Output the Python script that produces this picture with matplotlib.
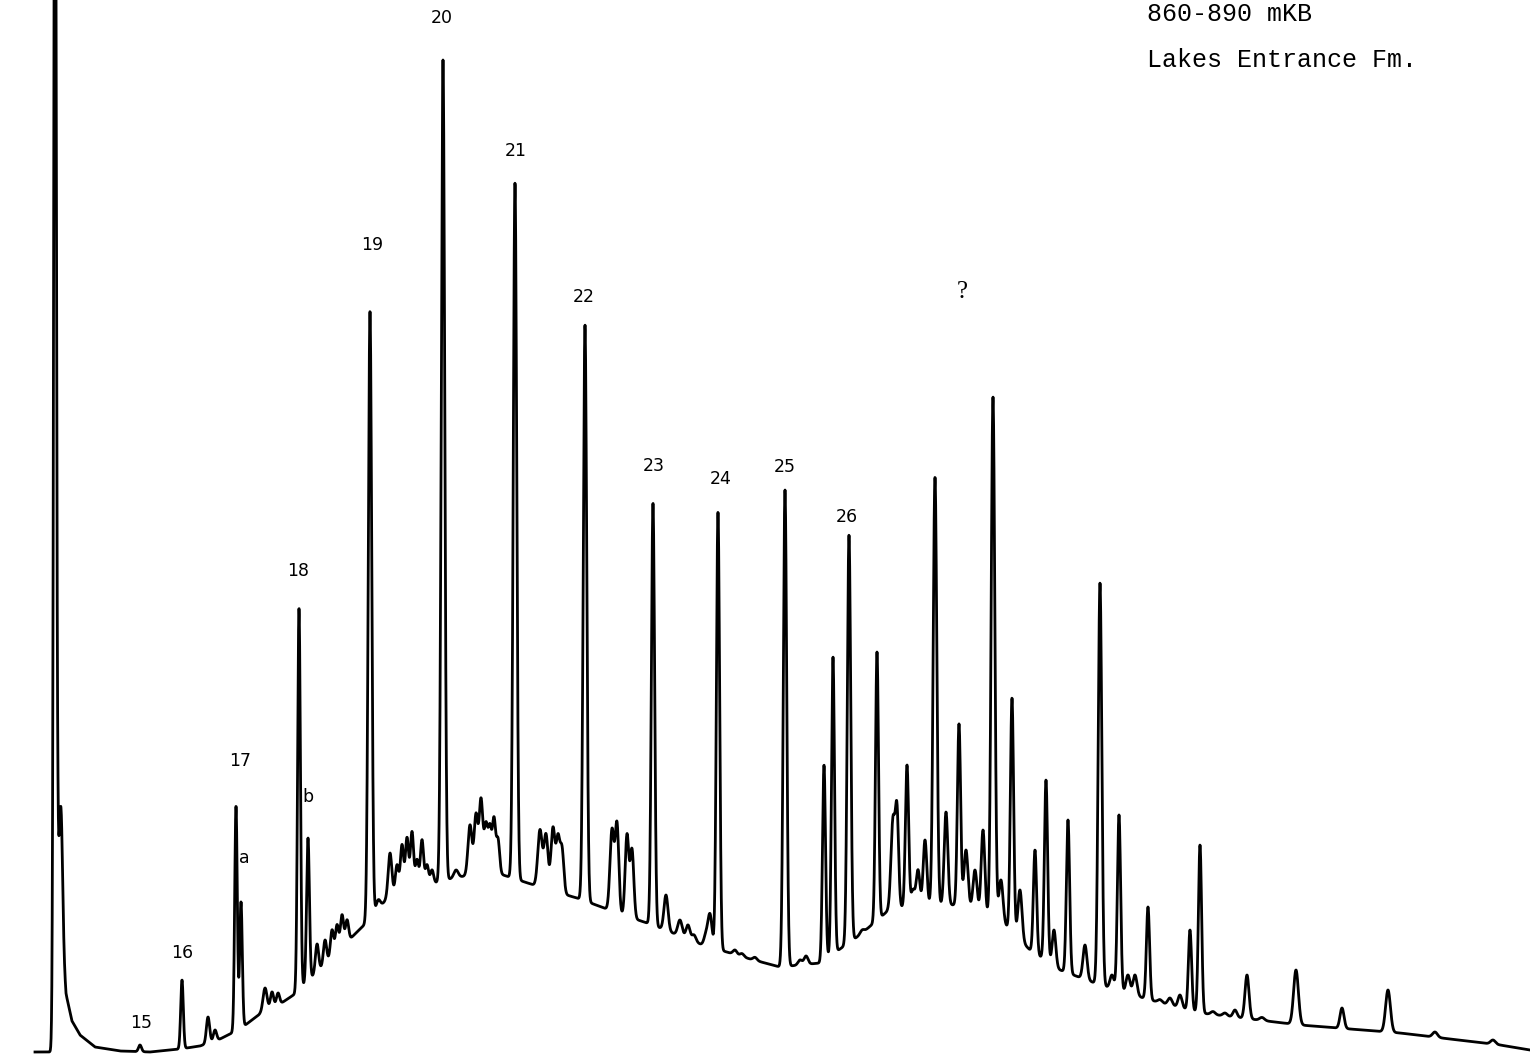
# Gas chromatogram, Lakes Entrance Fm.

import numpy as np
from matplotlib import pyplot as plt

# retention axis: 0-1530, response axis: 0-1059 (chart units)
base_x = [35, 52, 58, 62, 66, 72, 80, 95, 120, 150, 180, 200, 220, 240, 260,
          280, 295, 320, 340, 360, 375, 390, 420, 450, 480, 500, 540, 580,
          620, 650, 700, 750, 780, 820, 860, 890, 920, 960, 1000, 1030, 1060,
          1100, 1150, 1200, 1250, 1300, 1350, 1400, 1450, 1500, 1530]
base_y = [7, 7, 170, 120, 65, 38, 24, 12, 8, 7, 10, 13, 20, 30, 45,
          55, 65, 90, 110, 130, 144, 165, 172, 180, 186, 185, 172, 160,
          145, 135, 115, 100, 92, 96, 124, 150, 154, 154, 139, 109, 89,
          74, 59, 46, 40, 34, 30, 26, 20, 14, 9]

peak_x = [55, 61, 140, 182, 208, 215, 236, 241, 265, 272, 278, 299, 308,
          317, 325, 332, 337, 342, 347, 370, 378, 390, 397, 402, 407, 412,
          417, 422, 427, 432, 443, 456, 470, 476, 481, 486, 490, 494, 498,
          515, 540, 546, 553, 558, 562, 585, 612, 617, 627, 632, 653, 666,
          680, 688, 694, 706, 710, 718, 735, 742, 755, 785, 800, 806, 824,
          833, 849, 862, 877, 893, 897, 907, 913, 918, 925, 935, 946, 959,
          966, 975, 983, 993, 1001, 1012, 1020, 1035, 1046, 1054, 1068, 1085,
          1100, 1112, 1119, 1128, 1135, 1148, 1160, 1170, 1180, 1190, 1200,
          1213, 1225, 1235, 1247, 1262, 1296, 1342, 1388, 1435, 1493]
peak_top = [1400, 251, 14, 79, 42, 29, 253, 157, 71, 67, 66, 451, 221,
            115, 119, 129, 134, 144, 139, 748, 159, 206, 194, 214, 221, 227,
            199, 219, 194, 189, 999, 189, 234, 244, 259, 234, 229, 239, 219,
            876, 229, 224, 231, 219, 209, 734, 229, 234, 224, 209, 556, 164,
            139, 134, 124, 124, 144, 547, 109, 104, 99, 569, 99, 103, 294,
            402, 524, 129, 407, 239, 244, 294, 169, 189, 219, 582, 247, 335,
            209, 189, 229, 662, 179, 361, 169, 209, 279, 129, 239, 114,
            476, 84, 244, 84, 84, 152, 59, 61, 64, 129, 214,
            44, 46, 49, 84, 41, 89, 51, 69, 27, 19]
peak_w = [1.3, 1.6, 1.5, 1.3, 1.6, 1.6, 1.3, 1.3, 2.0, 1.6, 1.6, 1.4, 1.4,
          1.6, 1.6, 1.6, 1.6, 1.6, 1.6, 1.7, 2.2, 1.8, 1.6, 1.6, 1.6, 1.6,
          1.6, 1.6, 1.6, 1.6, 1.7, 2.2, 2.0, 1.8, 1.8, 1.8, 1.6, 1.6, 1.6,
          1.7, 2.2, 2.0, 2.0, 1.8, 1.8, 1.7, 2.0, 1.8, 1.8, 1.8, 1.6, 2.0,
          2.2, 2.0, 2.0, 2.0, 2.0, 1.6, 2.0, 2.0, 2.0, 1.7, 2.0, 2.0, 1.5,
          1.5, 1.7, 2.0, 1.5, 2.0, 1.6, 1.6, 1.8, 1.8, 1.8, 1.8, 1.8, 1.6,
          2.0, 2.0, 1.8, 1.8, 2.0, 1.6, 2.0, 1.6, 1.6, 1.8, 1.6, 2.0,
          1.8, 2.0, 1.6, 2.0, 2.0, 1.6, 2.2, 2.2, 2.0, 1.6, 1.6,
          2.2, 2.2, 2.0, 2.0, 2.4, 2.4, 2.0, 2.4, 2.4, 2.4]

label_text = ['15', '16', '17', 'a', '18', 'b', '19', '20', '21', '22',
              '23', '24', '25', '26']
label_x = [141, 182, 240, 244, 298, 308, 372, 442, 516, 584, 654, 721, 785,
           847]
label_y = [36, 106, 298, 201, 488, 262, 814, 1041, 908, 762, 593, 580, 592,
           542]


def build_trace():
    x = np.linspace(35, 1530, 8000)
    y = np.interp(x, base_x, base_y)
    for px, top, w in zip(peak_x, peak_top, peak_w):
        amp = max(top - np.interp(px, base_x, base_y), 3)
        y = y + amp * np.exp(-0.5 * ((x - px) / w) ** 2)
    return x, y


def draw():
    fig = plt.figure(figsize=(15.3, 10.59), dpi=100)
    ax = fig.add_axes([0, 0, 1, 1])
    x, y = build_trace()
    ax.plot(x, y, color='black', lw=2.0, solid_joinstyle='round')
    ax.set_xlim(0, 1530)
    ax.set_ylim(0, 1059)
    ax.axis('off')

    lab_font = ['Liberation Sans Narrow', 'DejaVu Sans']
    for t, lx, ly in zip(label_text, label_x, label_y):
        ax.text(lx, ly, t, ha='center', va='center', fontsize=12.5,
                family=lab_font, color='black')
    ax.text(962, 767, '?', ha='center', va='center', fontsize=18,
            family='Liberation Serif')

    ax.text(1147, 1045, '860-890 mKB', ha='left', va='center', fontsize=18,
            family='Liberation Mono')
    ax.text(1147, 999, 'Lakes Entrance Fm.', ha='left', va='center',
            fontsize=18, family='Liberation Mono')

    fig.savefig('out.png', dpi=100, facecolor='white')


if __name__ == '__main__':
    draw()
